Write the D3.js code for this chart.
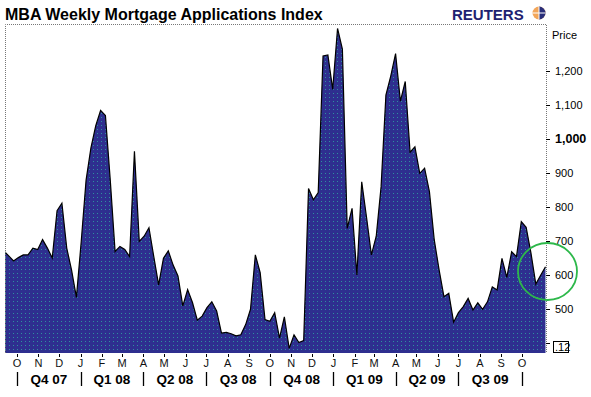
<!DOCTYPE html>
<html>
<head>
<meta charset="utf-8">
<script src="https://cdn.jsdelivr.net/npm/d3@7"></script>
<style>
  body { margin: 0; background: #fff; }
  text { font-family: "Liberation Sans", Arial, sans-serif; }
</style>
</head>
<body>
<div id="mainDiv"></div>
<script>
// weekly index values, Sep 12 2007 .. Nov 4 2009
var values = [
  672, 657, 642, 652, 660, 660, 680, 676, 705, 680,
  651, 790, 812, 680, 615, 535, 700, 880, 975, 1040,
  1085, 1070, 880, 670, 685, 676, 655, 965, 700, 715,
  740, 655, 572, 650, 672, 630, 598, 510, 558, 520,
  468, 480, 505, 522, 495, 430, 432, 428, 422, 425,
  455, 500, 660, 608, 470, 465, 490, 415, 478, 385,
  425, 402, 408, 855, 822, 843, 1245, 1248, 1147, 1326,
  1265, 738, 797, 601, 875, 770, 660, 715, 860, 1130,
  1186, 1252, 1112, 1170, 962, 978, 900, 915, 846, 704,
  616, 537, 547, 462, 490, 508, 532, 498, 519, 500,
  522, 566, 557, 650, 594, 669, 655, 758, 741, 665,
  574, 600, 625
];
var startDate = new Date(2007, 8, 12);
var monthLabels = ["O","N","D","J","F","M","A","M","J","J","A","S","O","N","D","J","F","M","A","M","J","J","A","S","O"];
var quarterLabels = ["Q4 07","Q1 08","Q2 08","Q3 08","Q4 08","Q1 09","Q2 09","Q3 09"];
var yTicks = [500, 600, 700, 800, 900, 1000, 1100, 1200];

var W = 591, H = 397;
var plotL = 5, plotR = 546, plotT = 24, plotB = 353;

var data = values.map(function(v, i){
    return {date: d3.timeDay.offset(startDate, i * 7), value: v};
});

var svg = d3.select("#mainDiv").append("svg")
    .attr("width", W)
    .attr("height", H);

var x = d3.scaleTime()
    .domain([new Date(2007, 9, 1), new Date(2009, 9, 1)])
    .range([17, 522]);
var y = d3.scaleLinear()
    .domain([400, 1200])
    .range([343.3, 71.3]);

// dotted fill texture
var defs = svg.append("defs");
var pat = defs.append("pattern")
    .attr("id", "dots")
    .attr("patternUnits", "userSpaceOnUse")
    .attr("width", 4).attr("height", 4);
pat.append("rect").attr("width", 4).attr("height", 4).attr("fill", "#2e2f8f");
pat.append("rect").attr("x", 1).attr("y", 1).attr("width", 1).attr("height", 1).attr("fill", "#2f8f9f");
defs.append("clipPath").attr("id", "plotClip")
    .append("rect").attr("x", plotL).attr("y", plotT).attr("width", plotR - plotL).attr("height", plotB - plotT);

// title
svg.append("text")
    .attr("x", 5).attr("y", 20)
    .attr("font-size", "16px")
    .attr("font-weight", "bold")
    .attr("fill", "#000")
    .text("MBA Weekly Mortgage Applications Index");

// reuters logo
svg.append("text")
    .attr("x", 452).attr("y", 20)
    .attr("font-size", "15px")
    .attr("font-weight", "bold")
    .attr("fill", "#1e2270")
    .text("REUTERS");
var globe = svg.append("g").attr("transform", "translate(539,13)");
globe.append("circle").attr("r", 6.5).attr("fill", "#f2a65a");
globe.append("path").attr("d", "M0,-6.5 A6.5,6.5 0 0 1 0,6.5 Z").attr("fill", "#2a2f7a");
globe.append("line").attr("x1", -6.5).attr("x2", 6.5).attr("stroke", "#fff").attr("stroke-width", 1);
globe.append("line").attr("y1", -6.5).attr("y2", 6.5).attr("stroke", "#fff").attr("stroke-width", 1);

// area
var area = d3.area()
    .x(function(d){ return x(d.date); })
    .y0(plotB)
    .y1(function(d){ return y(d.value); });
var line = d3.line()
    .x(function(d){ return x(d.date); })
    .y(function(d){ return y(d.value); });
var plot = svg.append("g").attr("clip-path", "url(#plotClip)");
plot.append("path").datum(data)
    .attr("d", area)
    .attr("fill", "url(#dots)");
plot.append("path").datum(data)
    .attr("d", line)
    .attr("fill", "none")
    .attr("stroke", "#000")
    .attr("stroke-width", 1.2);

// frame (dotted)
svg.append("path")
    .attr("d", "M" + (plotL + 0.5) + "," + plotB + " V" + (plotT + 0.5) + " H" + (plotR + 0.5) + " V" + plotB)
    .attr("fill", "none")
    .attr("stroke", "#777")
    .attr("stroke-width", 1)
    .attr("stroke-dasharray", "1,1");

// right axis
svg.append("text")
    .attr("x", 552).attr("y", 39)
    .attr("font-size", "11px")
    .text("Price");
yTicks.forEach(function(t){
    svg.append("line")
        .attr("x1", plotR).attr("x2", plotR + 4)
        .attr("y1", Math.round(y(t)) + 0.5).attr("y2", Math.round(y(t)) + 0.5)
        .attr("stroke", "#000");
    svg.append("text")
        .attr("x", 555).attr("y", y(t) + 4)
        .attr("font-size", t == 1000 ? "12.5px" : "11px")
        .attr("font-weight", t == 1000 ? "bold" : "normal")
        .text(d3.format(",")(t));
});
svg.append("line")
    .attr("x1", plotR).attr("x2", plotR + 4)
    .attr("y1", Math.round(y(400)) + 0.5).attr("y2", Math.round(y(400)) + 0.5)
    .attr("stroke", "#000");
svg.append("rect")
    .attr("x", 553.5).attr("y", 341.5).attr("width", 15).attr("height", 11)
    .attr("fill", "#fff").attr("stroke", "#000");
svg.append("text")
    .attr("x", 555).attr("y", 351)
    .attr("font-size", "11px")
    .text(".12");

// bottom axis: months
var months = d3.timeMonth.range(new Date(2007, 9, 1), new Date(2009, 9, 2));
months.forEach(function(m, i){
    svg.append("line")
        .attr("x1", Math.round(x(m)) + 0.5).attr("x2", Math.round(x(m)) + 0.5)
        .attr("y1", plotB + 1).attr("y2", plotB + 4)
        .attr("stroke", "#000");
    svg.append("text")
        .attr("x", x(m)).attr("y", 367)
        .attr("text-anchor", "middle")
        .attr("font-size", "11px")
        .attr("fill", "#111")
        .text(monthLabels[i]);
});

// quarters
var quarters = d3.timeMonth.every(3).range(new Date(2007, 9, 1), new Date(2009, 9, 2));
quarters.forEach(function(q, i){
    svg.append("line")
        .attr("x1", Math.round(x(q)) + 0.5).attr("x2", Math.round(x(q)) + 0.5)
        .attr("y1", 372).attr("y2", 386)
        .attr("stroke", "#000").attr("stroke-width", 1.3);
    if (i < quarterLabels.length){
        var nq = quarters[i + 1];
        svg.append("text")
            .attr("x", (x(q) + x(nq)) / 2).attr("y", 384)
            .attr("text-anchor", "middle")
            .attr("font-size", "13.5px")
            .attr("font-weight", "bold")
            .text(quarterLabels[i]);
    }
});

// green highlight circle
svg.append("ellipse")
    .attr("cx", 547.5).attr("cy", 271.5)
    .attr("rx", 29.5).attr("ry", 28.5)
    .attr("fill", "none")
    .attr("stroke", "#2db84a")
    .attr("stroke-width", 1.8);
</script>
</body>
</html>
